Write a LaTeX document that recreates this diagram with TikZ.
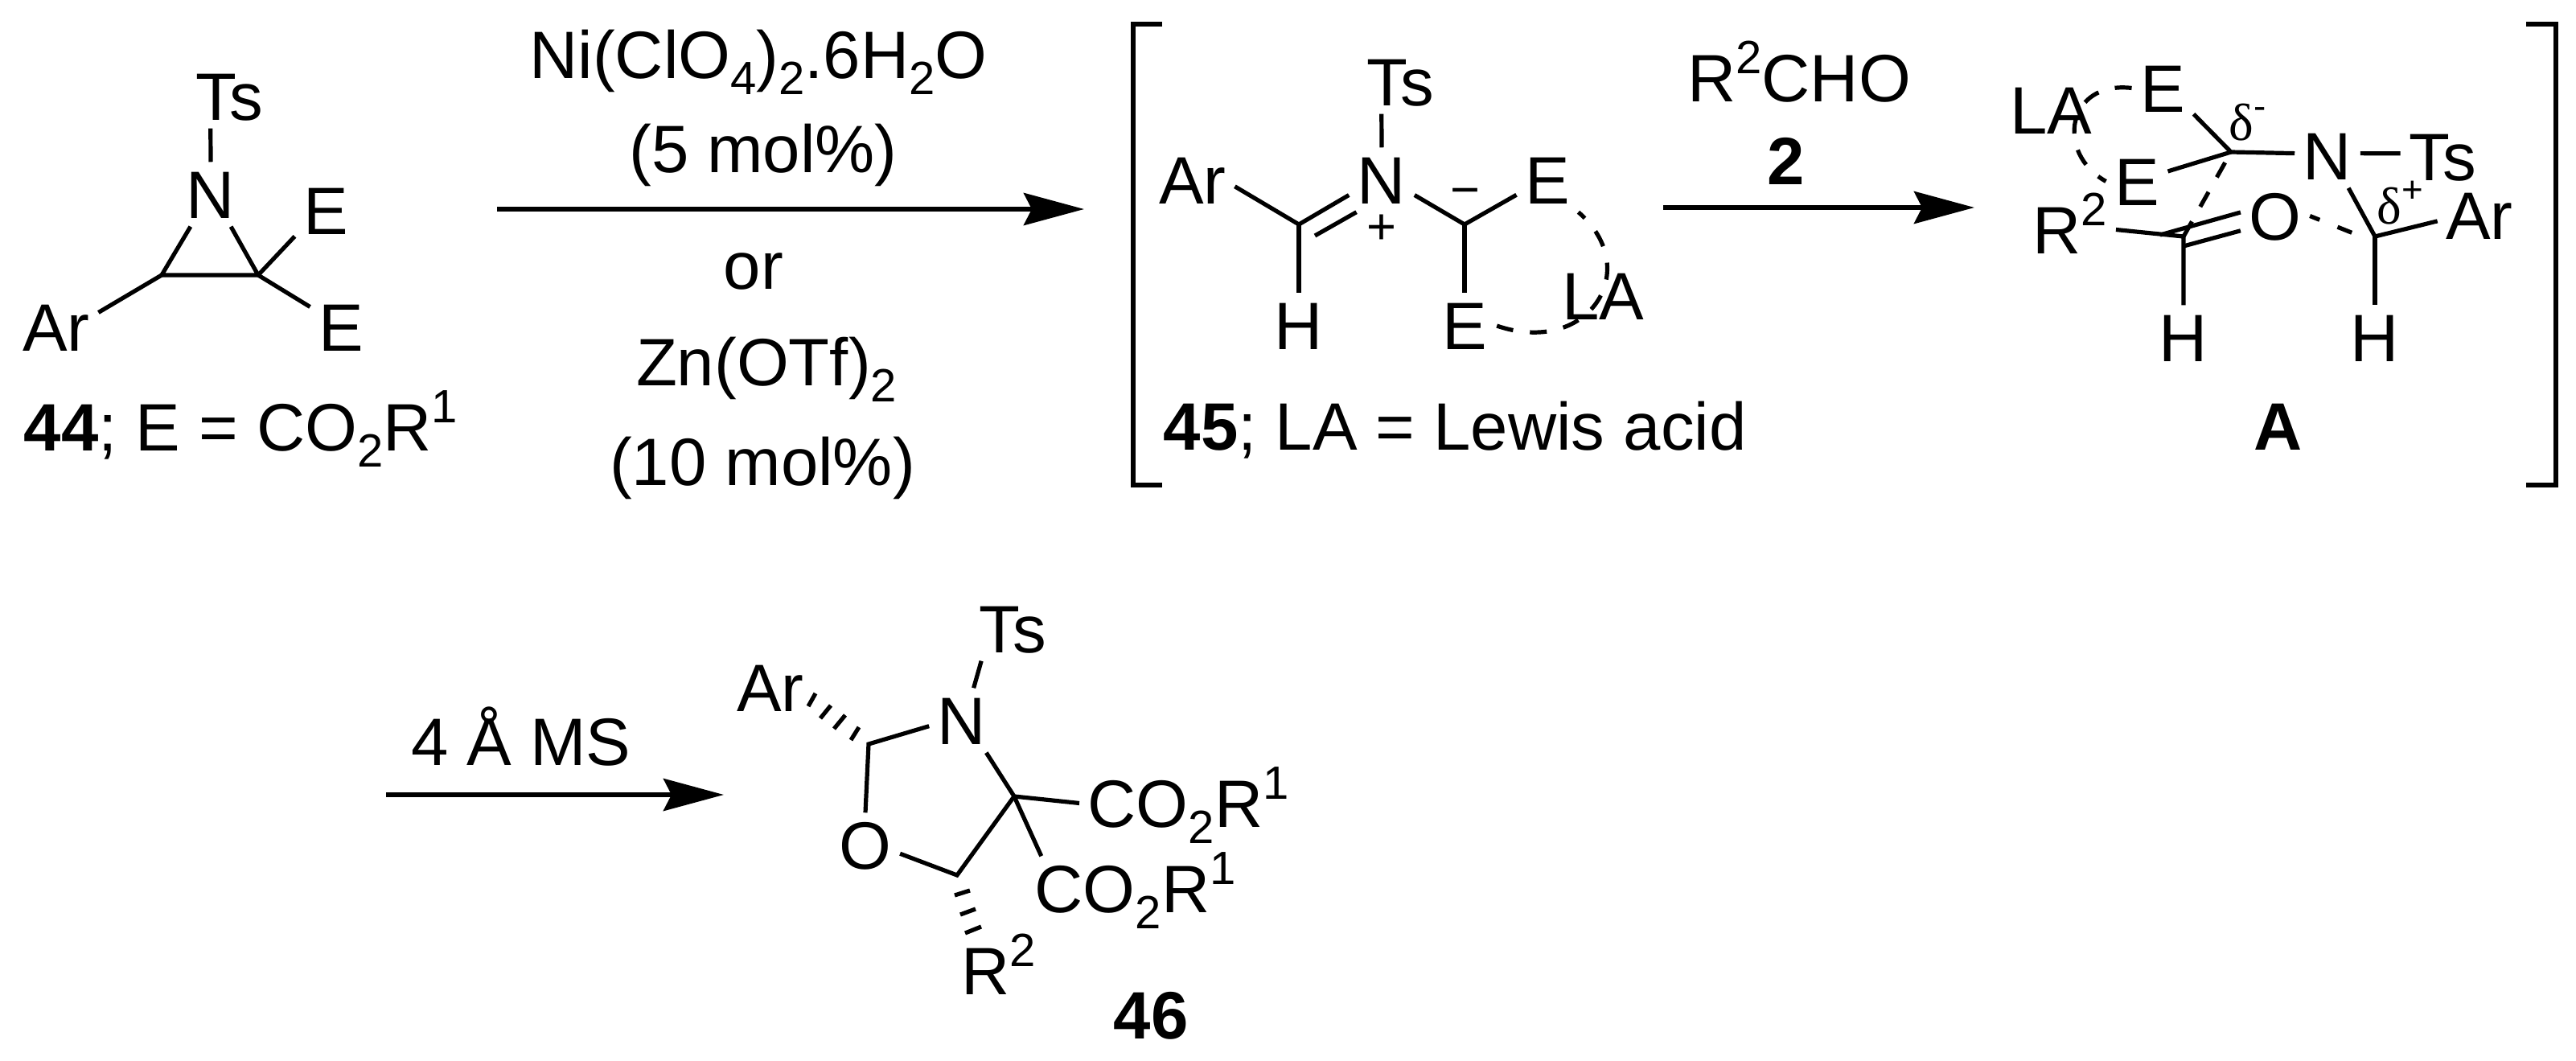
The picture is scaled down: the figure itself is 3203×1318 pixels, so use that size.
\documentclass[tikz,border=0pt]{standalone}
\usepackage{fontspec}
\setmainfont{Liberation Sans}
\newfontfamily\deltafont{Liberation Serif}
\usetikzlibrary{arrows.meta,positioning}

\newcommand{\chemsub}[1]{\smash{\raisebox{-0.2cm}{\fontsize{16.5}{17}\selectfont #1}}}
\newcommand{\chemsup}[1]{\smash{\raisebox{0.34cm}{\fontsize{16.5}{17}\selectfont #1}}}
\newcommand{\deltasup}[2]{{\deltafont\fontsize{18.5}{20}\selectfont δ}\smash{\raisebox{#1}{\fontsize{13}{13}\selectfont #2}}}

\begin{document}
\begin{tikzpicture}[
    x=0.01cm, y=-0.01cm,
    every node/.style={font=\fontsize{23.7}{28}\selectfont},
    atom/.style={anchor=base, inner sep=0.1cm, text height=0.59cm, text depth=0pt},
    chain/.style={anchor=base west, inner sep=0.1cm, text height=0.59cm, text depth=0pt},
    caption/.style={anchor=base west, inner sep=0pt},
    reagent/.style={inner sep=0pt, text height=0.6cm, text depth=0.2cm},
    charge/.style={inner sep=0pt, font=\fontsize{18}{20}\selectfont},
    delta/.style={anchor=base west, inner sep=0pt},
    bond/.style={line width=0.052cm},
    hash/.style={line width=0.052cm},
    weak/.style={line width=0.052cm, dash pattern=on 0.21cm off 0.21cm},
    arrow/.style={line width=0.06cm, -{Stealth[length=0.75cm, width=0.4cm, inset=0.1cm]}},
    bracket/.style={line width=0.06cm}
]
\useasboundingbox (0,0) rectangle (3203,1318);

% Aziridine 44
\node[atom] (Ts44) at (285,149) {Ts};
\node[atom] (N44) at (262,271) {N};
\node[atom] (Ea44) at (405,291) {E};
\node[atom] (Eb44) at (424,436) {E};
\node[atom] (Ar44) at (70,436) {Ar};
\coordinate (CL44) at (201,342);
\coordinate (CR44) at (321,342);
\draw[bond] (N44.north) -- (Ts44.240);
\draw[bond] (N44.238) -- (CL44) -- (CR44) -- (N44.302);
\draw[bond] (CR44) -- (Ea44.220);
\draw[bond] (CR44) -- (Eb44.147);
\draw[bond] (CL44) -- (Ar44.19);
\node[caption] (L44) at (29,560) {\textbf{44}; E = CO\chemsub{2}R\chemsup{1}};

% First arrow and its reagents
\node[reagent] (Ni) at (943,77) {Ni(ClO\chemsub{4})\chemsub{2}.6H\chemsub{2}O};
\node[reagent, below=0.36cm of Ni, xshift=0.06cm] (Mol5) {(5 mol\%)};
\node[reagent, below=0.64cm of Mol5, xshift=-0.12cm] (Or) {or};
\node[reagent, below=0.38cm of Or, xshift=0.16cm] (Zn) {Zn(OTf)\chemsub{2}};
\node[reagent, below=0.43cm of Zn, xshift=-0.05cm] (Mol10) {(10 mol\%)};
\coordinate (ArrA1) at (618,260);
\coordinate (ArrA2) at (1348,260);
\draw[arrow] (ArrA1) -- (ArrA2);

% Brackets
\draw[bracket] (1445,30) -- (1409,30) -- (1409,603) -- (1445,603);
\draw[bracket] (3141,30) -- (3178,30) -- (3178,603) -- (3141,603);

% Iminium ylide 45
\node[atom] (Ts45) at (1741,131) {Ts};
\node[atom] (N45) at (1718,253) {N};
\node[atom] (Ar45) at (1483,253) {Ar};
\node[atom] (H45) at (1615,434) {H};
\node[atom] (Ea45) at (1924,253) {E};
\node[atom] (Eb45) at (1821,434) {E};
\node[atom] (LA45) at (1993,397) {LA};
\node[charge] (Plus45) at (1718,285) {+};
\node[charge] (Minus45) at (1822,246) {−};
\coordinate (CA45) at (1615,279);
\coordinate (CB45) at (1821,279);
\coordinate (DB45) at (1635,293);
\draw[bond] (N45.north) -- (Ts45.240);
\draw[bond] (Ar45.351) -- (CA45) -- (N45.205);
\draw[bond] (DB45) -- (N45.232);
\draw[bond] (CA45) -- (H45.north);
\draw[bond] (N45.335) -- (CB45) -- (Ea45.206);
\draw[bond] (CB45) -- (Eb45.north);
\draw[weak, dash phase=0.1cm] (Ea45.south east) .. controls (2045,335) and (1975,445) .. (Eb45.east);
\node[caption] (L45) at (1446,559) {\textbf{45}; LA = Lewis acid};

% Second arrow
\node[anchor=base, inner sep=0pt] (Ald) at (2237,126) {R\chemsup{2}CHO};
\node[anchor=base, inner sep=0pt] (Two) at (2221,229) {\textbf{2}};
\coordinate (ArrB1) at (2068,258);
\coordinate (ArrB2) at (2455,258);
\draw[arrow] (ArrB1) -- (ArrB2);

% Transition state A
\node[atom] (LAA) at (2550,166) {LA};
\node[atom] (EaA) at (2689,139) {E};
\node[atom] (EbA) at (2657,255) {E};
\node[atom] (NA) at (2894,223) {N};
\node[atom] (TsA) at (3037,224) {Ts};
\node[atom] (R2A) at (2574,315) {R\chemsup{2}};
\node[atom] (OA) at (2829,298) {O};
\node[atom] (ArA) at (3083,297) {Ar};
\node[atom] (HaA) at (2715,449) {H};
\node[atom] (HbA) at (2953,449) {H};
\node[delta] (DmA) at (2771,174) {\deltasup{0.26cm}{-}};
\node[delta] (DpA) at (2955,278) {\deltasup{0.26cm}{+}};
\coordinate (CaA) at (2774,189);
\coordinate (CbA) at (2715,294);
\coordinate (CcA) at (2953,294);
\coordinate (DaA) at (2686,292);
\coordinate (DbA) at (2715,306);
\coordinate (WkA) at (2926,290);
\draw[bond] (EaA.320) -- (CaA) -- (NA.176);
\draw[bond] (CaA) -- (EbA.18);
\draw[bond] (NA.4) -- (TsA.176);
\draw[bond] (R2A.east) -- (CbA) -- (HaA.north);
\draw[bond] (DaA) -- (OA.174);
\draw[bond] (DbA) -- (OA.203);
\draw[bond] (NA.303) -- (CcA) -- (ArA.188);
\draw[bond] (CcA) -- (HbA.north);
\draw[weak, dash phase=0.27cm] (CaA) -- (CbA);
\draw[weak, dash pattern=on 0.19cm off 0.24cm, dash phase=0.06cm] (OA.east) -- (WkA);
\draw[weak] (EaA.west) .. controls (2570,100) and (2555,190) .. (EbA.west);
\node[anchor=base, inner sep=0pt] (LabelA) at (2833,559) {\textbf{A}};

% Third arrow
\node[anchor=base, inner sep=0pt] (Ms) at (648,951) {4 Å MS};
\coordinate (ArrC1) at (480,988);
\coordinate (ArrC2) at (900,988);
\draw[arrow] (ArrC1) -- (ArrC2);

% Oxazolidine 46
\node[atom] (Ts46) at (1259,811) {Ts};
\node[atom] (N46) at (1196,925) {N};
\node[atom] (Ar46) at (958,884) {Ar};
\node[atom] (O46) at (1076,1080) {O};
\node[chain] (Ea46) at (1342,1028) {CO\chemsub{2}R\chemsup{1}};
\node[chain] (Eb46) at (1276,1134) {CO\chemsub{2}R\chemsup{1}};
\node[chain] (R246) at (1185,1236) {R\chemsup{2}};
\coordinate (CA46) at (1080,925);
\coordinate (CB46) at (1190,1088);
\coordinate (CC46) at (1261,990);
\draw[bond] (N46.70) -- (Ts46.226);
\draw[bond] (N46.190) -- (CA46) -- (O46.north);
\draw[bond] (O46.346) -- (CB46) -- (CC46) -- (N46.307);
\draw[bond] (CC46) -- (Ea46.west);
\draw[bond] (CC46) -- (Eb46.161.5);
\draw[hash] (1014,862) -- (1005,878);
\draw[hash] (1033,877) -- (1020,893);
\draw[hash] (1051,889) -- (1037,906);
\draw[hash] (1068,904) -- (1058,920);
\draw[hash] (1187,1113) -- (1206,1107);
\draw[hash] (1194,1137) -- (1213,1130);
\draw[hash] (1200,1160) -- (1220,1152);
\node[anchor=base, inner sep=0pt] (L46) at (1431,1291) {\textbf{46}};

\end{tikzpicture}
\end{document}
